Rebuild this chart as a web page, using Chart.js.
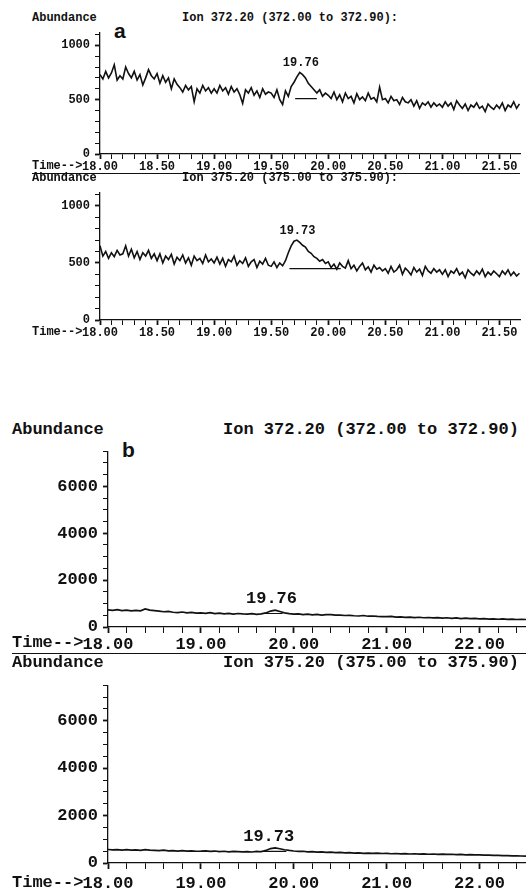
<!DOCTYPE html>
<html lang="en">
<head>
  <meta charset="UTF-8" />
  <title>Ion chromatograms</title>
  <script src="https://cdn.jsdelivr.net/npm/chart.js"></script>
  <style>
    body { margin: 0; background: #fff; width: 526px; height: 890px; position: relative; overflow: hidden; }
    canvas { position: absolute; left: 0; }
    .lbl { position: absolute; font: bold 12px "Liberation Mono", monospace; line-height: 14px; white-space: pre; color: #111; }
    .lblb { position: absolute; font: bold 17px "Liberation Mono", monospace; line-height: 20px; white-space: pre; color: #111; }
    .tag { position: absolute; font: bold 21px "Liberation Sans", Arial, sans-serif; line-height: 21px; color: #111; }
    .rule { position: absolute; border-top: 1.5px solid #111; height: 0; }
  </style>
</head>
<body>
  <!-- panel a -->
  <div class="lbl" style="left:32px;top:11px">Abundance</div>
  <div class="lbl" style="left:182px;top:11px">Ion 372.20 (372.00 to 372.90):</div>
  <div class="tag" style="left:114px;top:20px">a</div>
  <canvas id="a1" width="526" height="160" style="top:20px"></canvas>
  <div class="lbl" style="left:32px;top:159px">Time--&gt;</div>
  <div class="rule" style="left:32px;top:173px;width:488px"></div>

  <div class="lbl" style="left:32px;top:171px">Abundance</div>
  <div class="lbl" style="left:182px;top:171px">Ion 375.20 (375.00 to 375.90):</div>
  <canvas id="a2" width="526" height="160" style="top:180px"></canvas>
  <div class="lbl" style="left:32px;top:325px">Time--&gt;</div>

  <!-- panel b -->
  <div class="lblb" style="left:12px;top:420px">Abundance</div>
  <div class="lblb" style="left:223px;top:420px">Ion 372.20 (372.00 to 372.90)</div>
  <div class="tag" style="left:122px;top:439px">b</div>
  <canvas id="b1" width="526" height="216" style="top:436px"></canvas>
  <div class="lblb" style="left:12px;top:633px">Time--&gt;</div>
  <div class="rule" style="left:12px;top:653px;width:514px"></div>

  <div class="lblb" style="left:12px;top:653px">Abundance</div>
  <div class="lblb" style="left:223px;top:653px">Ion 375.20 (375.00 to 375.90)</div>
  <canvas id="b2" width="526" height="220" style="top:670px"></canvas>
  <div class="lblb" style="left:12px;top:873px">Time--&gt;</div>

  <script>
    // sampling grids (minutes)
    const aStart = 18.0, aStep = 0.025;
    const bStart = 18.0, bStep = 0.05;

    // panel a, ion 372.20 abundance
    const ion372a = [
      730, 690, 760, 700, 745, 820, 680, 720, 690, 800, 740, 700, 760, 680, 730, 635, 700, 775, 720, 690,
      740, 650, 720, 660, 700, 600, 690, 640, 610, 570, 630, 590, 620, 480, 600, 560, 630, 580, 610, 560,
      600, 560, 630, 580, 610, 550, 620, 570, 600, 545, 465, 590, 560, 610, 540, 580, 520, 600, 550, 570,
      560, 520, 590, 500, 455, 580, 530, 620, 660, 710, 750, 730, 700, 650, 620, 590, 560, 590, 530, 560,
      540, 510, 570, 500, 545, 480, 560, 510, 530, 470, 555, 500, 525, 490, 560, 505, 520, 480, 615, 500,
      510, 470, 530, 490, 500, 455, 520, 480, 470, 500, 440, 490, 420, 470, 450, 480, 430, 470, 440, 460,
      430, 480, 440, 470, 410, 490, 450, 420, 460, 400, 450, 430, 470, 420, 440, 390, 460, 430, 410, 450,
      420, 470, 400, 450, 430, 480, 420, 460
    ];
    // panel a, ion 375.20
    const ion375a = [
      650, 560, 600, 540, 590, 555, 610, 570, 580, 650, 560, 620, 545, 600, 530, 590, 560, 610, 540, 580,
      520, 580, 500, 560, 530, 575, 490, 550, 520, 570, 500, 545, 480, 560, 520, 540, 495, 570, 510, 535,
      500, 550, 490, 540, 470, 530, 510, 560, 480, 520, 495, 545, 470, 510, 530, 460, 515, 490, 540, 480,
      470, 510, 460, 500, 475, 520, 590, 650, 690, 700, 680, 655, 640, 600, 585, 555, 540, 515, 530, 495,
      510, 460, 490, 445, 500, 470, 455, 520, 450, 480, 430, 470, 500, 440, 465, 420, 480, 445, 460, 430,
      450, 410, 470, 420, 440, 480, 400, 455, 430, 395, 460, 420, 445, 390, 470, 430, 410, 450, 420, 440,
      400, 440, 380, 430, 410, 450, 395, 420, 370, 440, 410, 390, 430, 400, 445, 380, 420, 395, 430, 405,
      380, 430, 400, 440, 390, 420, 385, 410
    ];
    // panel b, ion 372.20 (wider time window, coarser read)
    const ion372b = [
      730, 710, 740, 700, 720, 690, 710, 690, 770, 720,
      700, 680, 650, 670, 630, 610, 640, 600, 620, 590,
      600, 580, 610, 570, 590, 560, 580, 550, 575, 560,
      550, 570, 540, 560, 600, 680, 720, 660, 600, 570,
      550, 560, 530, 545, 520, 540, 510, 530, 525, 505,
      510, 490, 500, 480, 470, 490, 460, 470, 450, 445,
      440, 450, 420, 435, 410, 425, 400, 415, 395, 405,
      390, 400, 380, 395, 370, 385, 360, 375, 355, 365,
      350, 360, 340, 350, 330, 345, 325, 335, 320, 330,
      320
    ];
    // panel b, ion 375.20
    const ion375b = [
      570, 550, 565, 540, 560, 545, 555, 530, 560, 540,
      535, 520, 540, 510, 525, 500, 520, 505, 515, 495,
      500, 510, 490, 505, 480, 495, 470, 490, 480, 470,
      480, 465, 490, 475, 530, 610, 640, 600, 560, 530,
      505, 490, 495, 470, 480, 460, 470, 450, 460, 440,
      450, 430, 440, 420, 430, 410, 420, 405, 415, 400,
      405, 390, 400, 385, 395, 380, 390, 375, 385, 370,
      380, 365, 375, 360, 370, 350, 360, 345, 350, 340,
      345, 330, 335, 320, 325, 310, 315, 300, 305, 295,
      290
    ];

    // peak annotations: retention time, apex abundance, label
    const peak372a = [19.76, 750, "19.76"];
    const peak375a = [19.73, 700, "19.73"];
    const peak372b = [19.76, 720, "19.76"];
    const peak375b = [19.73, 640, "19.73"];

    // integration baselines: start, end, abundance
    const base372a = [19.71, 19.90, 510];
    const base375a = [19.66, 20.11, 450];
    const base372b = [19.68, 19.88, 575];
    const base375b = [19.64, 19.92, 490];

    const mono = "Liberation Mono";
    const ink = "#111";

    const peakLabel = {
      id: "peakLabel",
      afterDatasetsDraw(chart, args, opts) {
        const c = chart.ctx;
        const x = chart.scales.x.getPixelForValue(opts.peak[0]);
        const y = chart.scales.y.getPixelForValue(opts.peak[1]);
        c.save();
        c.font = "bold " + opts.size + "px " + mono;
        c.fillStyle = ink;
        c.textAlign = "center";
        c.textBaseline = "bottom";
        c.fillText(opts.peak[2], x, y - 3);
        c.restore();
      }
    };

    function toPoints(vals, start, step) {
      return vals.map((v, i) => ({ x: start + i * step, y: v }));
    }

    function isMultiple(v, m) {
      const r = v / m;
      return Math.abs(r - Math.round(r)) < 1e-6;
    }

    function makeChart(id, cfg) {
      const sz = cfg.fontSize;
      new Chart(document.getElementById(id), {
        type: "line",
        data: {
          datasets: [
            {
              data: toPoints(cfg.values, cfg.start, cfg.step),
              borderColor: ink, borderWidth: cfg.lineWidth,
              pointRadius: 0, tension: 0
            },
            {
              data: [{ x: cfg.base[0], y: cfg.base[2] }, { x: cfg.base[1], y: cfg.base[2] }],
              borderColor: ink, borderWidth: 1.2, pointRadius: 0
            }
          ]
        },
        options: {
          responsive: false,
          animation: false,
          layout: { padding: cfg.padding },
          plugins: {
            legend: { display: false },
            tooltip: { enabled: false },
            peakLabel: { peak: cfg.peak, size: sz }
          },
          scales: {
            x: {
              type: "linear",
              min: cfg.xMin, max: cfg.xMax,
              afterFit: s => { s.height = cfg.xHeight; },
              border: { display: true, color: ink, width: 1.3 },
              grid: {
                drawOnChartArea: false, tickLength: cfg.tickLen, tickColor: ink,
                tickWidth: c => (c.tick && isMultiple(c.tick.value, cfg.xMajor) ? 1.8 : 1)
              },
              ticks: {
                stepSize: cfg.xMinor, autoSkip: false, maxRotation: 0, includeBounds: false,
                padding: cfg.xPad, color: ink,
                font: { family: mono, size: sz, weight: "bold" },
                callback: v => (isMultiple(v, cfg.xMajor) ? v.toFixed(2) : "")
              }
            },
            y: {
              min: 0, max: cfg.yMax,
              afterFit: s => { s.width = cfg.yWidth; },
              border: { display: true, color: ink, width: 1.3 },
              grid: {
                drawOnChartArea: false, tickLength: 5, tickColor: ink,
                tickWidth: c => (c.tick && isMultiple(c.tick.value, cfg.yMajor) ? 1.8 : 1)
              },
              ticks: {
                stepSize: cfg.yMinor, autoSkip: false, includeBounds: false,
                padding: 5, color: ink,
                font: { family: mono, size: sz, weight: "bold" },
                callback: v => (isMultiple(v, cfg.yMajor) ? String(v) : "")
              }
            }
          }
        },
        plugins: [peakLabel]
      });
    }

    const smallPanel = {
      start: aStart, step: aStep, xMin: 18, xMax: 21.68, xMajor: 0.5, xMinor: 0.1,
      yMax: 1120, yMajor: 500, yMinor: 100, fontSize: 12, lineWidth: 1.6,
      yWidth: 50, tickLen: 5, xPad: 1
    };
    const bigPanel = {
      start: bStart, step: bStep, xMin: 18, xMax: 22.5, xMajor: 1, xMinor: 0.2,
      yMax: 7500, yMajor: 2000, yMinor: 500, fontSize: 17, lineWidth: 1.7,
      yWidth: 88, tickLen: 6
    };

    makeChart("a1", Object.assign({}, smallPanel, {
      values: ion372a, peak: peak372a, base: base372a,
      padding: { left: 50, right: 6, top: 8, bottom: 0 }, xHeight: 26
    }));
    makeChart("a2", Object.assign({}, smallPanel, {
      values: ion375a, peak: peak375a, base: base375a,
      padding: { left: 50, right: 6, top: 8, bottom: 0 }, xHeight: 20
    }));
    makeChart("b1", Object.assign({}, bigPanel, {
      values: ion372b, peak: peak372b, base: base372b, xPad: 2,
      padding: { left: 20, right: 0, top: 5, bottom: 0 }, xHeight: 25
    }));
    makeChart("b2", Object.assign({}, bigPanel, {
      values: ion375b, peak: peak375b, base: base375b, xPad: 5,
      padding: { left: 20, right: 0, top: 5.5, bottom: 0 }, xHeight: 27
    }));
  </script>
</body>
</html>
